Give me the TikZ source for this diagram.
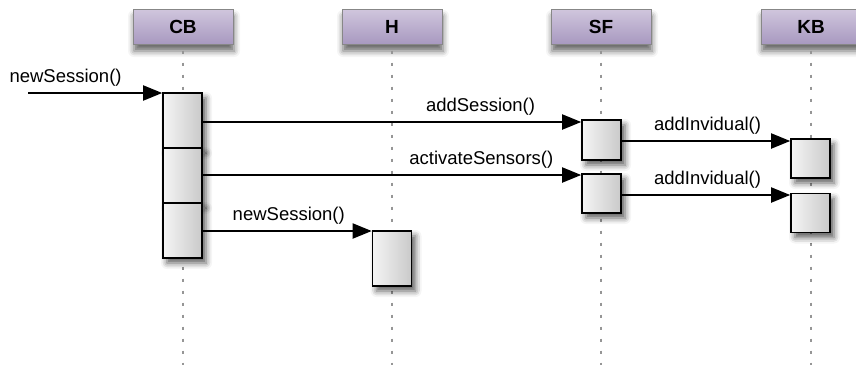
\documentclass[tikz,border=0pt]{standalone}
\usepackage{fontspec}
\setmainfont{Liberation Sans}
\usetikzlibrary{arrows.meta,shadows.blur}
\definecolor{hdrtop}{RGB}{208,198,221}
\definecolor{hdrbot}{RGB}{168,153,192}
\definecolor{hdredge}{RGB}{135,135,135}
\definecolor{lifegray}{RGB}{150,150,150}
\begin{document}
\begin{tikzpicture}[x=1pt,y=-1pt,
  hdr/.style={draw=hdredge, line width=1pt, top color=hdrtop, bottom color=hdrbot,
    minimum width=100pt, minimum height=35pt, inner sep=0pt,
    font=\fontsize{19}{21}\selectfont\bfseries,
    blur shadow={shadow xshift=1pt, shadow yshift=-7pt, shadow blur radius=6pt, shadow opacity=60}},
  act/.style={draw=black, line width=1.6pt, left color=gray!8, right color=gray!42,
    minimum width=39pt, inner sep=0pt,
    blur shadow={shadow xshift=4pt, shadow yshift=-5pt, shadow blur radius=6pt, shadow opacity=65}},
  life/.style={draw=lifegray, line width=2pt, dash pattern=on 3pt off 9pt},
  msg/.style={draw=black, line width=1.9pt, -{Triangle[length=19pt,width=15pt]}},
  lbl/.style={font=\fontsize{18.5}{21}\selectfont, inner sep=0pt, above=6pt}
]
\useasboundingbox (0,0) rectangle (856,365);

% headers
\node[hdr] (CB) at (183,26.5) {CB};
\node[hdr] (H)  at (392,26.5) {H};
\node[hdr] (SF) at (601,26.5) {SF};
\node[hdr] (KB) at (811,26.5) {KB};

% lifeline ends
\coordinate (cbE) at (183,365);
\coordinate (hE)  at (392,365);
\coordinate (sfE) at (601,365);
\coordinate (kbE) at (811,365);

\draw[life] (CB.south) ++(0,6) -- (cbE);
\draw[life] (H.south)  ++(0,6) -- (hE);
\draw[life] (SF.south) ++(0,6) -- (sfE);
\draw[life] (KB.south) ++(0,6) -- (kbE);

% activation boxes
\node[act, minimum height=55pt] (cb1) at (182.5,120.5) {};
\node[act, minimum height=55pt] (cb2) at (182.5,175.5) {};
\node[act, minimum height=55pt] (cb3) at (182.5,230.5) {};
\node[act, minimum height=55pt] (h1)  at (392,258.5) {};
\node[act, minimum height=40pt] (sf1) at (601.5,140) {};
\node[act, minimum height=39pt] (sf2) at (601.5,193.5) {};
\node[act, minimum height=39pt] (kb1) at (810.5,158.5) {};
\node[act, minimum height=39pt] (kb2) at (810.5,213) {};

% messages
\coordinate (start) at (28,93);
\draw[msg] (start) -- node[lbl, pos=0.28] {newSession()} (cb1.west |- start);
\draw[msg] (cb1.east |- 0,122) -- node[lbl, pos=0.734] {addSession()} (sf1.west |- 0,122);
\draw[msg] (cb2.east |- 0,175) -- node[lbl, pos=0.736] {activateSensors()} (sf2.west |- 0,175);
\draw[msg] (cb3.east |- 0,231) -- node[lbl, pos=0.509] {newSession()} (h1.west |- 0,231);
\draw[msg] (sf1.east |- 0,141) -- node[lbl, pos=0.509] {addInvidual()} (kb1.west |- 0,141);
\draw[msg] (sf2.east |- 0,195) -- node[lbl, pos=0.509] {addInvidual()} (kb2.west |- 0,195);
\end{tikzpicture}
\end{document}
